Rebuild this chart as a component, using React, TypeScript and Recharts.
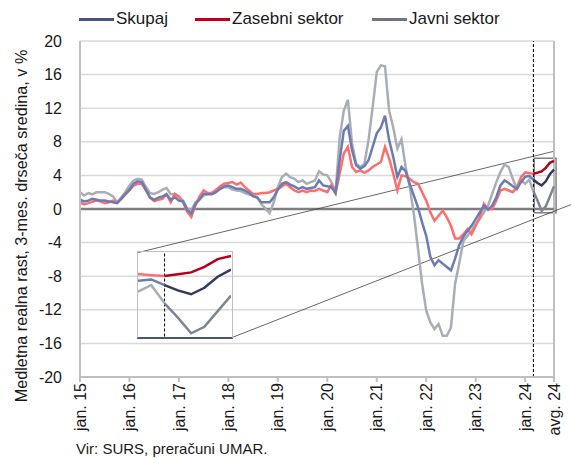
import React from "react";
import { LineChart, Line, XAxis, YAxis, CartesianGrid, ReferenceLine, ReferenceArea } from "recharts";

// monthly values, jan 2015 .. avg 2024
const skupaj = [
  1.1, 0.9, 1.0, 1.2, 1.1, 1.0, 1.0, 0.9, 0.8, 0.7, 1.2, 1.8,
  2.3, 3.0, 3.3, 3.2, 2.3, 1.4, 1.1, 1.35, 1.5, 1.75, 1.1, 1.4,
  1.0, 0.9, -0.1, -0.55, 0.6, 1.1, 1.8, 1.75, 1.75, 2.0, 2.4, 2.7,
  2.8, 2.6, 2.4, 2.4, 2.2, 1.9, 1.5, 1.35, 0.8, 0.8, 0.8, 1.4,
  2.3, 3.0, 3.2, 2.9, 2.7, 2.4, 2.6, 2.4, 2.5, 2.6, 3.4, 2.8,
  2.7, 2.6, 1.9, 5.8, 9.3, 9.9, 7.0, 5.2, 4.8, 5.1, 5.8, 7.4,
  9.0, 9.7, 11.1, 8.2, 6.2, 3.8, 5.0, 4.5, 3.0, 1.6, 0.2, -1.6,
  -3.2, -5.7, -6.7, -6.1, -6.5, -6.9, -7.3, -5.9, -4.3, -3.3, -2.6, -2.0,
  -1.2, -0.4, 0.4, -0.1, 0.4, 1.4, 2.8, 3.4, 3.1, 2.7, 2.4, 3.2,
  3.84, 3.94, 3.5, 3.1, 2.8, 3.3, 4.15, 4.7,
];
const zasebni = [
  0.8, 0.55, 0.7, 0.85, 1.0, 0.9, 0.7, 0.8, 1.0, 0.75, 1.2, 1.7,
  2.2, 2.8, 3.0, 3.0, 2.2, 1.35, 0.95, 1.1, 1.2, 1.75, 0.8, 1.8,
  1.5, 0.8, -0.35, -0.95, 0.45, 1.5, 2.2, 1.9, 1.9, 2.3, 2.7, 3.0,
  3.1, 3.2, 2.9, 3.15, 2.6, 2.2, 1.8, 1.8, 1.9, 1.9, 2.0, 2.2,
  2.4, 2.7, 3.0, 2.6, 2.2, 2.0, 2.2, 2.0, 2.2, 2.15, 2.4, 2.2,
  2.0, 2.9, 1.9, 4.2, 6.6, 7.4, 5.0, 4.4, 4.6, 4.3, 4.6, 5.0,
  5.3, 5.6, 7.4, 6.0, 4.2, 2.2, 4.0, 3.9, 3.6, 3.2, 3.0, 2.0,
  1.0, -0.4, -1.4, -0.8, -0.2, -1.0, -2.0, -3.5, -3.5, -3.0, -2.4, -3.0,
  -2.0, -1.0, 0.6, 0.0, 0.0, 1.0, 2.2, 2.4, 2.2, 2.0, 2.6, 3.8,
  4.35, 4.27, 4.2, 4.33, 4.48, 4.9, 5.5, 5.74,
];
const javni = [
  2.0, 1.6, 1.9, 1.75, 2.0, 2.0, 2.0, 1.8, 1.5, 0.8, 1.4, 2.0,
  2.8, 3.4, 3.6, 3.5, 2.6, 1.9, 1.8, 2.0, 2.3, 2.5, 1.75, 1.75,
  1.4, 1.0, 0.05, -0.15, 0.8, 1.2, 1.6, 1.8, 1.9, 2.2, 2.4, 2.6,
  2.6, 2.3, 2.2, 2.15, 1.9, 1.75, 1.6, 1.4, 0.6, 0.05, -0.5, 0.8,
  2.6, 3.8, 4.2, 3.8, 3.6, 3.2, 3.4, 3.0, 3.2, 3.4, 4.5, 4.1,
  4.0, 3.2, 2.0, 8.5, 11.7, 13.0, 7.8, 5.4, 5.0, 5.4, 8.2, 12.1,
  16.3, 17.1, 17.0, 11.7, 9.7, 7.2, 8.3, 5.0, 2.6, -0.6, -4.7, -8.9,
  -12.1, -13.5, -14.3, -13.7, -15.1, -15.1, -14.1, -8.9, -6.5, -3.8, -3.2, -2.6,
  -1.8, -1.2, -0.4, 0.4, 1.8, 3.2, 4.4, 5.3, 5.0, 3.6, 2.4, 3.4,
  3.0, 3.5, 2.1, 1.0, -0.2, 0.3, 1.5, 2.7,
];

const tickIndex = [0, 12, 24, 36, 48, 60, 72, 84, 96, 108, 115];
const tickLabels = [
  "jan. 15", "jan. 16", "jan. 17", "jan. 18", "jan. 19", "jan. 20",
  "jan. 21", "jan. 22", "jan. 23", "jan. 24", "avg. 24",
];
const yTicks = [-20, -16, -12, -8, -4, 0, 4, 8, 12, 16, 20];

const splitAt = 110; // marec 2024, začetek zadnjih podatkov
const zoomFrom = 108;

const rows = skupaj.map((v, i) => ({
  i,
  sk: i <= splitAt ? v : null,
  za: i <= splitAt ? zasebni[i] : null,
  ja: i <= splitAt ? javni[i] : null,
  skD: i >= splitAt ? v : null,
  zaD: i >= splitAt ? zasebni[i] : null,
  jaD: i >= splitAt ? javni[i] : null,
}));
const zoomRows = rows.slice(zoomFrom);

const colors = {
  sk: "#6c7cb2", skD: "#2f3a5e", skLeg: "#47557a",
  za: "#ff6e6e", zaD: "#b0001c", zaLeg: "#c0001a",
  ja: "#a9aeb5", jaD: "#7e858e", jaLeg: "#6e7684",
};

const font = "'Liberation Sans', Arial, sans-serif";

const XTick = ({ x, y, payload }: any) => {
  const k = tickIndex.indexOf(payload.value);
  return (
    <text x={x} y={y} transform={`rotate(-90, ${x}, ${y})`} textAnchor="end" dy="0.35em" fontSize={16} fill="#1a1a1a">
      {tickLabels[k]}
    </text>
  );
};

const YLabel = ({ viewBox }: any) => {
  const x = viewBox.x + 27;
  const y = viewBox.y + viewBox.height / 2 + 17;
  return (
    <text x={x} y={y} transform={`rotate(-90, ${x}, ${y})`} textAnchor="middle" fontSize={16.2} fill="#1a1a1a">
      Medletna realna rast, 3-mes. drseča sredina, v %
    </text>
  );
};

const legend = [
  { name: "Skupaj", color: colors.skLeg, left: 79 },
  { name: "Zasebni sektor", color: colors.zaLeg, left: 195 },
  { name: "Javni sektor", color: colors.jaLeg, left: 372 },
];

export default function App() {
  return (
    <div style={{ position: "absolute", left: 0, top: 0, width: 571, height: 458, fontFamily: font, background: "#fff" }}>
      {legend.map((l) => (
        <div key={l.name} style={{ position: "absolute", left: l.left, top: 9, display: "flex", alignItems: "center", fontSize: 17, color: "#1a1a1a", whiteSpace: "nowrap" }}>
          <span style={{ display: "inline-block", width: 35, height: 3, background: l.color, marginRight: 2 }} />
          {l.name}
        </div>
      ))}

      <LineChart width={571} height={458} data={rows} margin={{ top: 41, right: 17, bottom: 21, left: 0 }}>
        <CartesianGrid vertical={false} stroke="#d9d9d9" strokeWidth={1.5} />
        <XAxis
          dataKey="i"
          type="number"
          domain={[0, 115]}
          ticks={tickIndex}
          interval={0}
          height={60}
          tickSize={5}
          tickMargin={1}
          tick={<XTick />}
          stroke="#bfbfbf"
          strokeWidth={2}
        />
        <YAxis
          domain={[-20, 20]}
          ticks={yTicks}
          interval={0}
          width={80}
          tickLine={false}
          tickSize={8}
          tickMargin={10}
          axisLine={{ stroke: "#bfbfbf", strokeWidth: 2 }}
          tick={{ fontSize: 16, fill: "#1a1a1a" }}
          label={<YLabel />}
        />
        <ReferenceLine x={115} stroke="#bfbfbf" strokeWidth={2} />
        <ReferenceLine y={0} stroke="#7f7f7f" strokeWidth={2.5} />
        <ReferenceLine x={splitAt} stroke="#000" strokeDasharray="3 2" strokeWidth={1} />
        <ReferenceArea x1={110.2} x2={115.5} y1={-0.45} y2={6.05} fill="none" stroke="#7f7f7f" strokeWidth={1.5} ifOverflow="visible" />
        <ReferenceLine segment={[{ x: 14.1, y: -5.18 }, { x: 114.8, y: 6.85 }]} stroke="#404040" strokeWidth={0.8} ifOverflow="visible" />
        <ReferenceLine segment={[{ x: 36.9, y: -15.3 }, { x: 119.2, y: 0.54 }]} stroke="#404040" strokeWidth={0.8} ifOverflow="visible" />

        <Line dataKey="ja" stroke={colors.ja} strokeWidth={2.5} dot={false} isAnimationActive={false} />
        <Line dataKey="za" stroke={colors.za} strokeWidth={2.5} dot={false} isAnimationActive={false} />
        <Line dataKey="sk" stroke={colors.sk} strokeWidth={2.5} dot={false} isAnimationActive={false} />
        <Line dataKey="jaD" stroke={colors.jaD} strokeWidth={2.5} dot={false} isAnimationActive={false} />
        <Line dataKey="zaD" stroke={colors.zaD} strokeWidth={2.5} dot={false} isAnimationActive={false} />
        <Line dataKey="skD" stroke={colors.skD} strokeWidth={2.5} dot={false} isAnimationActive={false} />
      </LineChart>

      {/* povečava zadnjih mesecev */}
      <div style={{ position: "absolute", left: 137, top: 251, width: 96, height: 88, boxSizing: "border-box", borderTop: "1.5px solid #bfbfbf", borderLeft: "1.5px solid #bfbfbf", borderRight: "1.5px solid #bfbfbf", borderBottom: "2px solid #4a5570" }}>
        <LineChart width={93} height={84.5} data={zoomRows} margin={{ top: 0, right: 0, bottom: 0, left: 0 }}>
          <XAxis dataKey="i" type="number" domain={[zoomFrom, 115]} hide />
          <YAxis domain={[-0.45, 6.05]} hide />
          <ReferenceLine x={splitAt} stroke="#000" strokeDasharray="3 2" strokeWidth={1} />
          <Line dataKey="ja" stroke={colors.ja} strokeWidth={2.5} dot={false} isAnimationActive={false} />
          <Line dataKey="za" stroke={colors.za} strokeWidth={2.5} dot={false} isAnimationActive={false} />
          <Line dataKey="sk" stroke={colors.sk} strokeWidth={2.5} dot={false} isAnimationActive={false} />
          <Line dataKey="jaD" stroke={colors.jaD} strokeWidth={2.5} dot={false} isAnimationActive={false} />
          <Line dataKey="zaD" stroke={colors.zaD} strokeWidth={2.5} dot={false} isAnimationActive={false} />
          <Line dataKey="skD" stroke={colors.skD} strokeWidth={2.5} dot={false} isAnimationActive={false} />
        </LineChart>
      </div>

      <div style={{ position: "absolute", left: 76, top: 440, fontSize: 15, color: "#1a1a1a", whiteSpace: "nowrap" }}>
        Vir: SURS, preračuni UMAR.
      </div>
    </div>
  );
}
